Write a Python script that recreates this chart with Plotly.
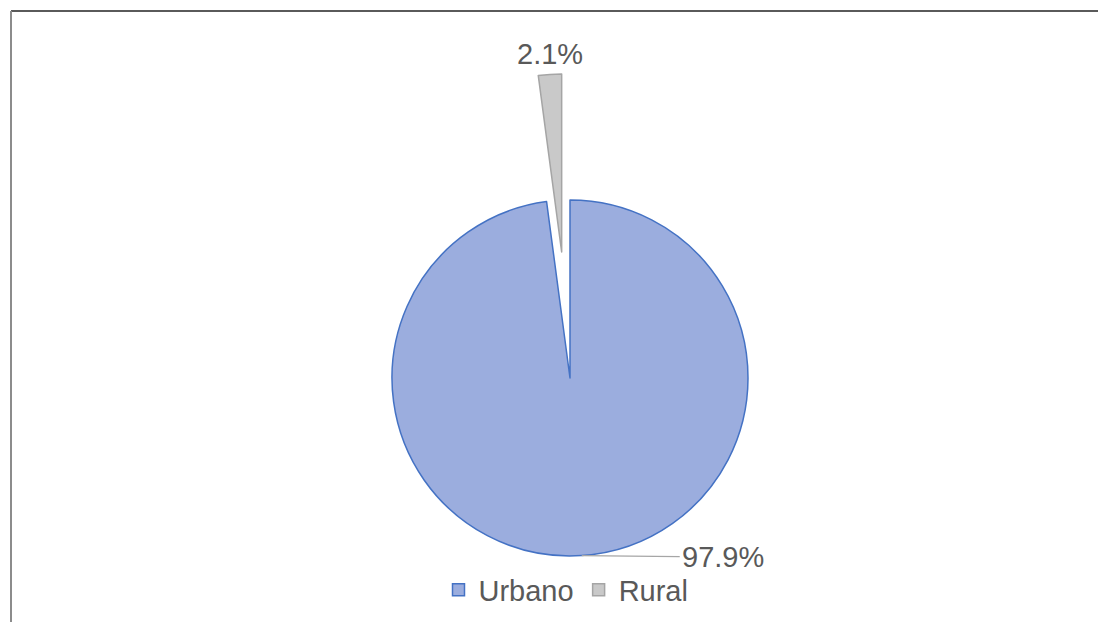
import math
import plotly.graph_objects as go

# data
labels = ["Urbano", "Rural"]
values = [97.9, 2.1]
fill_colors = ["#9BADDE", "#C9C9C9"]
line_colors = ["#4472C4", "#A5A5A5"]

W, H = 1106, 622
OFF = 8                        # page body margin the figure sits inside
CX, CY, R = 570 - OFF, 378 - OFF, 178   # pie centre and radius in px
PULL = 0.71                    # how far the Rural slice is exploded (fraction of R)
FONT = dict(family="Liberation Sans, Arial", size=29, color="#595959")


def dom(cx, cy, r):
    """pixel centre/radius -> pie domain in paper coords"""
    return dict(x=[(cx - r) / W, (cx + r) / W],
                y=[1 - (cy + r) / H, 1 - (cy - r) / H])


total = sum(values)
# bisector angle (clockwise from 12 o'clock) of each slice
angles = []
acc = 0
for v in values:
    angles.append(2 * math.pi * (acc + v / 2) / total)
    acc += v

fig = go.Figure()

# main pie: Urbano drawn, Rural left as a gap
fig.add_trace(go.Pie(
    labels=labels, values=values, sort=False, direction="clockwise", rotation=0,
    marker=dict(colors=[fill_colors[0], "rgba(0,0,0,0)"],
                line=dict(color=[line_colors[0], "rgba(0,0,0,0)"], width=1.5)),
    textinfo="none", showlegend=False, hoverinfo="label+percent",
    domain=dom(CX, CY, R),
))

# exploded Rural slice: same pie shifted along its bisector
a = angles[1]
rcx = CX + PULL * R * math.sin(a)
rcy = CY - PULL * R * math.cos(a)
fig.add_trace(go.Pie(
    labels=labels, values=values, sort=False, direction="clockwise", rotation=0,
    marker=dict(colors=["rgba(0,0,0,0)", fill_colors[1]],
                line=dict(color=["rgba(0,0,0,0)", line_colors[1]], width=1.5)),
    textinfo="none", showlegend=False, hoverinfo="label+percent",
    domain=dom(rcx, rcy, R),
))

# legend entries
for lab, fc, lc in zip(labels, fill_colors, line_colors):
    fig.add_trace(go.Scatter(
        x=[None], y=[None], mode="markers", name=lab,
        marker=dict(symbol="square", size=12, color=fc, line=dict(color=lc, width=1.5)),
    ))

# Rural label, just above the outer edge of the exploded slice
rx = rcx + R * math.sin(a)
ry = rcy - R * math.cos(a)
fig.add_annotation(
    x=rx / W, y=1 - ry / H, xref="paper", yref="paper",
    text=f"{values[1] / total:.1%}", font=FONT, showarrow=False,
    xanchor="center", yanchor="bottom", yshift=2,
)

# Urbano label with leader line from the pie edge
a = angles[0]
ex = CX + R * math.sin(a)
ey = CY - R * math.cos(a)
fig.add_annotation(
    x=ex / W, y=1 - ey / H, xref="paper", yref="paper",
    text=f"{values[0] / total:.1%}", font=FONT,
    showarrow=True, arrowhead=0, arrowwidth=1.2, arrowcolor="#A6A6A6",
    ax=98, ay=1, xanchor="left", yanchor="middle",
)

# chart frame (top and left edges)
fig.add_shape(type="line", xref="paper", yref="paper",
              x0=(11 - OFF) / W, x1=1, y0=1 - (11 - OFF) / H, y1=1 - (11 - OFF) / H,
              line=dict(color="#5A5A5A", width=2))
fig.add_shape(type="line", xref="paper", yref="paper",
              x0=(11 - OFF) / W, x1=(11 - OFF) / W, y0=0, y1=1 - (11 - OFF) / H,
              line=dict(color="#8C8C8C", width=2))

fig.update_layout(
    width=W, height=H,
    margin=dict(l=0, r=0, t=0, b=0),
    paper_bgcolor="white", plot_bgcolor="white",
    xaxis=dict(visible=False), yaxis=dict(visible=False),
    legend=dict(orientation="h", x=(566 - OFF) / W, xanchor="center",
                y=1 - (590 - OFF) / H, yanchor="middle",
                font=FONT, bgcolor="rgba(0,0,0,0)", itemwidth=30),
    showlegend=True,
)

fig.write_html("out.html")
